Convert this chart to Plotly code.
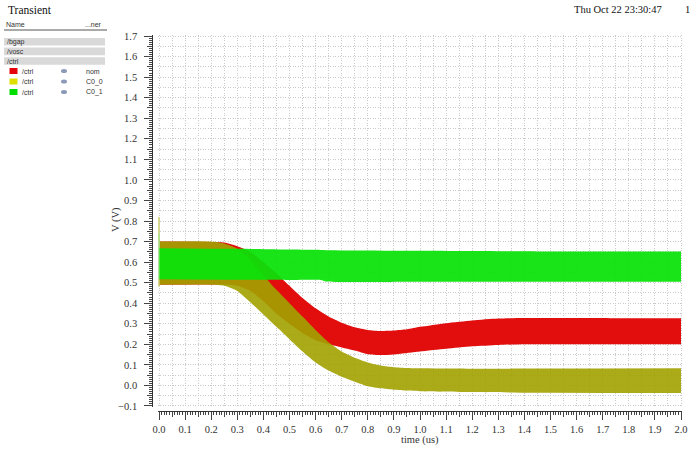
import plotly.graph_objects as go

# ---------------- data ----------------
# band envelopes of the oscillating /ctrl signals, time in us, volts
t_red = [0.0, 0.25, 0.30, 0.35, 0.40, 0.45, 0.50, 0.55, 0.60, 0.65, 0.70, 0.75,
         0.80, 0.85, 0.90, 0.95, 1.00, 1.10, 1.20, 1.30, 1.40, 1.60, 1.80, 2.00]
red_upper = [0.70, 0.695, 0.677, 0.650, 0.60, 0.545, 0.485, 0.425, 0.375, 0.335, 0.305, 0.283,
             0.270, 0.265, 0.267, 0.273, 0.285, 0.303, 0.316, 0.325, 0.328, 0.328, 0.327, 0.327]
red_lower = [0.49, 0.49, 0.485, 0.46, 0.41, 0.35, 0.30, 0.255, 0.22, 0.20, 0.185, 0.170,
             0.152, 0.148, 0.151, 0.158, 0.165, 0.178, 0.190, 0.197, 0.200, 0.200, 0.200, 0.200]

t_yel = [0.0, 0.20, 0.25, 0.30, 0.35, 0.40, 0.45, 0.50, 0.55, 0.60, 0.65, 0.70,
         0.75, 0.80, 0.85, 0.90, 0.95, 1.00, 1.20, 1.50, 2.00]
yel_upper = [0.70, 0.70, 0.69, 0.665, 0.61, 0.535, 0.465, 0.40, 0.335, 0.27, 0.21, 0.165,
             0.135, 0.112, 0.097, 0.089, 0.085, 0.083, 0.081, 0.082, 0.083]
yel_lower = [0.49, 0.49, 0.485, 0.46, 0.405, 0.345, 0.285, 0.225, 0.165, 0.112, 0.072, 0.042,
             0.018, -0.004, -0.014, -0.021, -0.025, -0.028, -0.032, -0.036, -0.037]

t_grn = [0.0, 0.30, 0.50, 0.62, 0.64, 1.00, 1.50, 2.00]
grn_upper = [0.668, 0.665, 0.661, 0.659, 0.658, 0.655, 0.652, 0.651]
grn_lower = [0.516, 0.514, 0.513, 0.513, 0.506, 0.505, 0.505, 0.505]

spike_t = [0.0, 0.0]
spike_v = [0.48, 0.82]
spike2_v = [0.52, 0.74]

signals = ["/bgap", "/vosc", "/ctrl"]
legend_names = ["/ctrl", "/ctrl", "/ctrl"]
legend_corners = ["nom", "C0_0", "C0_1"]
legend_colors = ["#e3000b", "#dede00", "#00dd00"]

# ---------------- layout helpers ----------------
FW, FH = 691, 449
L, R, T, B = 100, 8, 30, 30
W = FW - L - R
H = FH - T - B


def px(x):
    return (x - L) / W


def py(y):
    return (FH - B - y) / H


SERIF = "Liberation Serif"
SANS = "Liberation Sans"

fig = go.Figure()

# bands (red under yellow under green)
bands = [
    (t_red, red_lower, red_upper, "rgba(226,14,14,1)"),
    (t_yel, yel_lower, yel_upper, "rgba(162,162,0,0.9)"),
]
for t, lo, up, col in bands:
    fig.add_trace(go.Scatter(x=t, y=lo, mode="lines", line=dict(width=0, shape="spline", smoothing=0.6),
                             hoverinfo="skip"))
    fig.add_trace(go.Scatter(x=t, y=up, mode="lines", fill="tonexty", fillcolor=col,
                             line=dict(width=0, shape="spline", smoothing=0.6), hoverinfo="skip"))

fig.add_trace(go.Scatter(x=spike_t, y=spike_v, mode="lines", line=dict(color="#cccc70", width=1.5),
                         hoverinfo="skip"))

fig.add_trace(go.Scatter(x=t_grn, y=grn_lower, mode="lines", line=dict(width=0, shape="spline", smoothing=0.6),
                         hoverinfo="skip"))
fig.add_trace(go.Scatter(x=t_grn, y=grn_upper, mode="lines", fill="tonexty", fillcolor="rgba(10,226,10,0.94)",
                         line=dict(width=0, shape="spline", smoothing=0.6), hoverinfo="skip"))
fig.add_trace(go.Scatter(x=spike_t, y=spike2_v, mode="lines", line=dict(color="#90e890", width=1),
                         hoverinfo="skip"))

# dummy trace for the fine-tick overlay axes
fig.add_trace(go.Scatter(x=[None], y=[None], xaxis="x2", yaxis="y2", hoverinfo="skip"))

xdom = [px(157.7), px(682.3)]
ydom = [py(407), py(35)]
xpos = py(411.3)
ypos = px(152.3)

grid = dict(gridcolor="#cbcbcb", griddash="1px,1.5px", gridwidth=1)
tickc = "#444444"
tfont = dict(family=SERIF, size=10.5, color="#333333")

fig.update_layout(
    width=FW, height=FH,
    margin=dict(l=L, r=R, t=T, b=B, pad=0, autoexpand=False),
    paper_bgcolor="white", plot_bgcolor="white", showlegend=False,
    xaxis=dict(domain=xdom, range=[-0.005, 2.005], anchor="free", position=xpos,
               tickmode="linear", tick0=0, dtick=0.1, tickformat=".1f",
               ticks="outside", ticklen=8, tickcolor=tickc, tickwidth=1,
               showline=True, linecolor="#333333", linewidth=1, zeroline=False,
               showgrid=True, **grid,
               minor=dict(tick0=0, dtick=0.05, ticks="outside", ticklen=5, tickcolor=tickc,
                          showgrid=True, **grid),
               tickfont=tfont),
    yaxis=dict(domain=ydom, range=[-0.105, 1.705], anchor="free", position=ypos,
               tickmode="linear", tick0=0, dtick=0.1, tickformat=".1f",
               ticks="outside", ticklen=8, tickcolor=tickc, tickwidth=1,
               showline=True, linecolor="#333333", linewidth=1, zeroline=False,
               showgrid=True, **grid,
               minor=dict(tick0=0, dtick=0.05, ticks="outside", ticklen=5, tickcolor=tickc,
                          showgrid=True, **grid),
               tickfont=tfont, ticklabelstandoff=5),
    xaxis2=dict(domain=xdom, range=[-0.005, 2.005], overlaying="x", anchor="free", position=xpos,
                tickmode="linear", tick0=0, dtick=0.01, ticks="outside", ticklen=3, tickcolor=tickc,
                showticklabels=False, showgrid=False, showline=False, zeroline=False),
    yaxis2=dict(domain=ydom, range=[-0.105, 1.705], overlaying="y", anchor="free", position=ypos,
                tickmode="linear", tick0=0, dtick=0.01, ticks="outside", ticklen=3, tickcolor=tickc,
                showticklabels=False, showgrid=False, showline=False, zeroline=False),
)

ann = []
shapes = []


def text(x, y, s, size, family, anchor="left", color="#222222", angle=0):
    ann.append(dict(x=px(x), y=py(y), xref="paper", yref="paper", text=s, showarrow=False,
                    xanchor=anchor, yanchor="middle", textangle=angle,
                    font=dict(family=family, size=size, color=color)))


# axis titles
text(420, 440, "time (us)", 10.5, SERIF, anchor="center", color="#333333")
text(116, 220, "V (V)", 10.5, SERIF, anchor="center", color="#333333", angle=-90)

text(6, 10, "Transient", 11.5, SERIF, color="#111111")
text(572, 10, "Thu Oct 22 23:30:47", 10.5, SERIF, color="#111111")
text(683, 10, "1", 10.5, SERIF, color="#111111")
text(4, 25, "Name", 7, SANS, color="#333333")
text(104, 25, "...ner", 7, SANS, anchor="right", color="#333333")
shapes.append(dict(type="line", xref="paper", yref="paper", x0=px(4), x1=px(107), y0=py(30), y1=py(30),
                   line=dict(color="#555555", width=1)))

for i, s in enumerate(signals):
    yc = 41.8 + i * 9.6
    shapes.append(dict(type="rect", xref="paper", yref="paper", x0=px(4), x1=px(105),
                       y0=py(yc + 3.8), y1=py(yc - 3.8), fillcolor="#d9d9d9", line=dict(width=0)))
    text(5, yc, s, 7, SANS, color="#333333")

for i, (nm, cn, col) in enumerate(zip(legend_names, legend_corners, legend_colors)):
    yc = 71 + i * 10.5
    shapes.append(dict(type="rect", xref="paper", yref="paper", x0=px(9.5), x1=px(17.5),
                       y0=py(yc + 3), y1=py(yc - 3), fillcolor=col, line=dict(width=0)))
    text(20, yc, nm, 7, SANS, color="#333333")
    shapes.append(dict(type="circle", xref="paper", yref="paper", x0=px(61), x1=px(67),
                       y0=py(yc + 2), y1=py(yc - 2), fillcolor="#8c9ab8", line=dict(width=0)))
    text(84, yc, cn, 7, SANS, color="#333333")

fig.update_layout(annotations=ann, shapes=shapes)

fig.write_html("out.html")
